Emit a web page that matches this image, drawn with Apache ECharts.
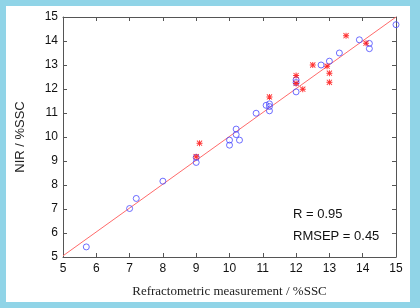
<!DOCTYPE html>
<html>
<head>
<meta charset="utf-8">
<script src="https://cdn.jsdelivr.net/npm/echarts@6/dist/echarts.min.js"></script>
<style>
html, body { margin: 0; padding: 0; }
#main { width: 420px; height: 308px; background: #90d4e7; }
</style>
</head>
<body>
<div id="main"></div>
<script>
// calibration samples, refractometer vs NIR (%SSC)
var calX = [5.7, 7.0, 7.2, 8.0, 9.0, 9.0, 10.0, 10.0, 10.2, 10.2, 10.3, 10.8, 11.1, 11.2, 11.2, 11.2, 12.0, 12.0, 12.0, 12.75, 13.0, 13.3, 13.9, 14.2, 14.2, 15.0];
var calY = [5.42, 7.02, 7.44, 8.16, 9.15, 8.94, 9.87, 9.66, 10.33, 10.1, 9.87, 10.99, 11.32, 11.38, 11.27, 11.09, 12.38, 12.27, 11.88, 13.0, 13.16, 13.5, 14.05, 13.9, 13.68, 14.68];
// prediction samples
var predX = [9.1, 9.0, 11.2, 12.0, 12.0, 12.2, 12.5, 12.93, 13.0, 13.0, 13.5, 14.1];
var predY = [9.74, 9.18, 11.67, 12.56, 12.23, 11.99, 13.0, 12.95, 12.66, 12.28, 14.22, 13.91];
// regression line end points
var fitX = [5, 15];
var fitY = [5.05, 15];
var stats = ['R = 0.95', 'RMSEP = 0.45'];

function pairs(xs, ys) {
    var out = [];
    for (var i = 0; i < xs.length; i++) out.push([xs[i], ys[i]]);
    return out;
}

// asterisk marker with a small solid centre
var star = 'path://M4.2,0L5.8,0L5.8,4.2L10,4.2L10,5.8L5.8,5.8L5.8,10L4.2,10L4.2,5.8L0,5.8L0,4.2L4.2,4.2Z' +
    'M1.2,0.2L9.8,8.8L8.8,9.8L0.2,1.2ZM8.8,0.2L9.8,1.2L1.2,9.8L0.2,8.8Z' +
    'M3,3L7,3L7,7L3,7Z';

var chart = echarts.init(document.getElementById('main'));
var axisCommon = {
    type: 'value', min: 5, max: 15, interval: 1,
    axisLine: { show: true, lineStyle: { color: '#555', width: 1 } },
    axisTick: { show: true, inside: true, length: 4, lineStyle: { color: '#555' } },
    splitLine: { show: false }
};
var option = {
    backgroundColor: 'transparent',
    animation: false,
    graphic: [
        { type: 'rect', left: 6, top: 6, z: -10, shape: { width: 404, height: 296 }, style: { fill: '#fff' } },
        { type: 'text', left: 293, top: 208, style: { text: stats[0], font: '13px "Liberation Sans", Arial', fill: '#111' } },
        { type: 'text', left: 293, top: 230, style: { text: stats[1], font: '13px "Liberation Sans", Arial', fill: '#111' } }
    ],
    grid: { left: 63, top: 17, right: 24, bottom: 51 },
    xAxis: [
        echarts.util.merge({
            position: 'bottom',
            name: 'Refractometric measurement / %SSC', nameLocation: 'middle', nameGap: 28,
            nameTextStyle: { fontFamily: '"Liberation Serif", "Times New Roman", serif', fontSize: 13, color: '#222' },
            axisLabel: { fontFamily: '"Liberation Sans", Arial', fontSize: 12, color: '#111', margin: 6 }
        }, axisCommon, true),
        echarts.util.merge({ position: 'top', axisLabel: { show: false } }, axisCommon, true)
    ],
    yAxis: [
        echarts.util.merge({
            position: 'left',
            name: 'NIR / %SSC', nameLocation: 'middle', nameGap: 36,
            nameTextStyle: { fontFamily: '"Liberation Sans", Arial', fontSize: 13, color: '#222' },
            axisLabel: { fontFamily: '"Liberation Sans", Arial', fontSize: 12, color: '#111', margin: 5 }
        }, axisCommon, true),
        echarts.util.merge({ position: 'right', axisLabel: { show: false } }, axisCommon, true)
    ],
    series: [
        {
            type: 'line', data: pairs(fitX, fitY), symbol: 'none',
            lineStyle: { color: '#ff6a6a', width: 1 }, z: 1
        },
        {
            type: 'scatter', data: pairs(calX, calY), symbol: 'circle', symbolSize: 6,
            itemStyle: { color: 'rgba(0,0,0,0)', borderColor: '#4a4aff', borderWidth: 1 }, z: 2
        },
        {
            type: 'scatter', data: pairs(predX, predY), symbol: star, symbolSize: 6,
            itemStyle: { color: '#ff0000' }, z: 3
        }
    ]
};
chart.setOption(option);
</script>
</body>
</html>
